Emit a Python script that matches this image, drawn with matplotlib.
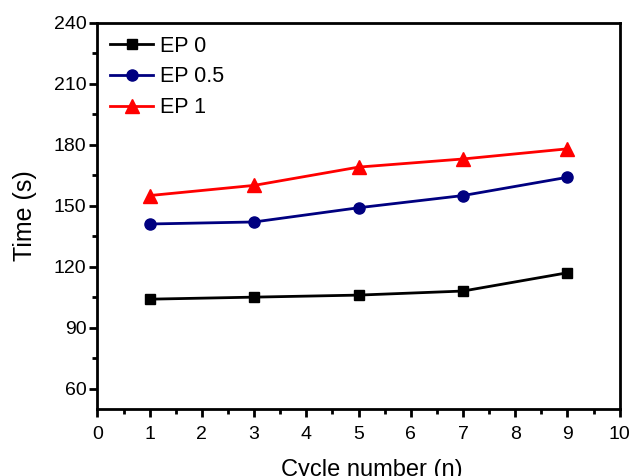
import matplotlib
matplotlib.use("Agg")
import matplotlib.pyplot as plt
from matplotlib.ticker import MultipleLocator

plt.rcParams['font.family'] = ['Liberation Sans', 'DejaVu Sans']

cycles = [1, 3, 5, 7, 9]
ep0 = [104, 105, 106, 108, 117]
ep05 = [141, 142, 149, 155, 164]
ep1 = [155, 160, 169, 173, 178]

fig = plt.figure(figsize=(6.33, 4.76), dpi=100)
ax = fig.add_axes([0.154, 0.141, 0.825, 0.811])

ax.plot(cycles, ep0, color='black', marker='s', markersize=7.5, linewidth=2, label='EP 0')
ax.plot(cycles, ep05, color='#000080', marker='o', markersize=8, linewidth=2, label='EP 0.5')
ax.plot(cycles, ep1, color='red', marker='^', markersize=10, linewidth=2, label='EP 1')

ax.set_xlim(0, 10)
ax.set_ylim(50, 240)
ax.xaxis.set_major_locator(MultipleLocator(1))
ax.xaxis.set_minor_locator(MultipleLocator(0.5))
ax.set_yticks([60, 90, 120, 150, 180, 210, 240])
ax.yaxis.set_minor_locator(MultipleLocator(15))
ax.tick_params(which='major', direction='out', length=6, width=2, labelsize=14, top=False, right=False)
ax.tick_params(axis='x', which='major', pad=6)
ax.tick_params(axis='y', which='major', pad=2)
ax.tick_params(which='minor', direction='out', length=3.5, width=2, top=False, right=False)
for s in ax.spines.values():
    s.set_linewidth(2)

ax.set_xlabel('Cycle number (n)', fontsize=17)
ax.xaxis.set_label_coords(0.526, -0.130)
ax.set_ylabel('Time (s)', fontsize=18, labelpad=12)

ax.legend(loc='upper left', frameon=False, fontsize=15.5, handlelength=2.0,
          labelspacing=0.45, borderaxespad=0.3, borderpad=0.3, handletextpad=0.3)

fig.savefig('out.png', dpi=100)
